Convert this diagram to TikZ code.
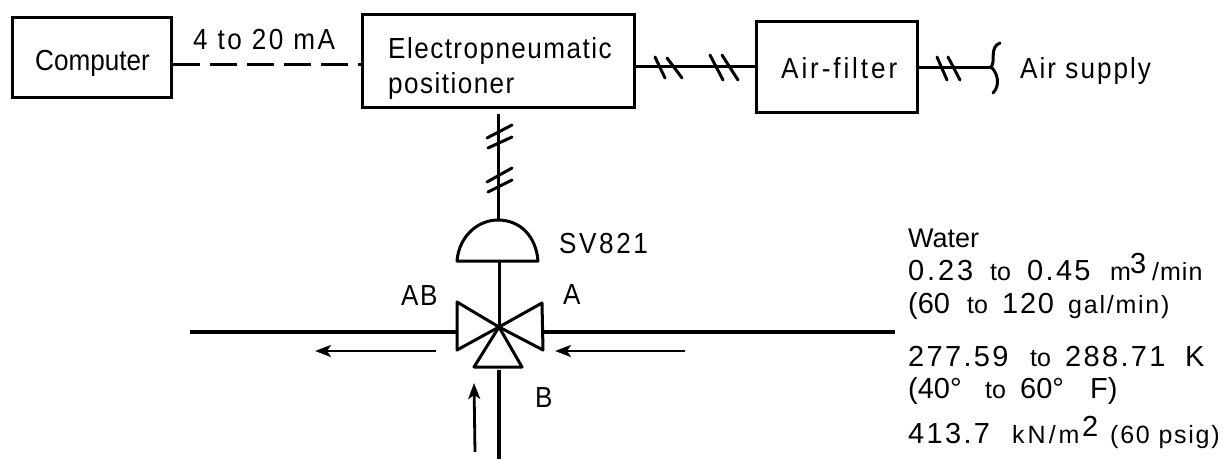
\documentclass[tikz,border=0pt]{standalone}
\usepackage{fontspec}
\setmainfont{Liberation Sans}
\newfontfamily\cond[FakeStretch=0.9]{Liberation Sans}
\newcommand\ls[1]{\addfontfeature{LetterSpace=#1}}
\newcommand\piece[2]{\makebox[#1pt][l]{#2}}
\newcommand\lgt[2]{{\fontsize{29}{29}\selectfont\ls{#1}#2}}
\newcommand\smt[2]{{\fontsize{25}{25}\selectfont\ls{#1}#2}}
\usetikzlibrary{arrows.meta}
\tikzset{
  x=1pt,y=-1pt,
  blockbox/.style={draw,line width=3pt,inner sep=0,rectangle},
  pipe/.style={line width=3.4pt},
  thin pipe/.style={line width=3pt},
  tick/.style={line width=3pt,line cap=round},
  valve/.style={line width=3pt,line join=round},
  flow/.style={line width=2.8pt,-{Stealth[length=16pt,width=12pt,inset=4pt]}},
  lbl/.style={anchor=base west,inner sep=0,font=\cond\fontsize{29}{29}\selectfont},
  rlbl/.style={anchor=base west,inner sep=0,font=\fontsize{29}{29}\selectfont},
}
\begin{document}
\begin{tikzpicture}
\useasboundingbox (0,0) rectangle (1232,459);
% boxes
\node[blockbox,minimum width=159pt,minimum height=80pt] (comp) at (91.5,57) {};
\node[blockbox,minimum width=272pt,minimum height=93pt] (epp) at (498,61) {};
\node[blockbox,minimum width=161pt,minimum height=91pt] (filt) at (836.5,66.5) {};
% box texts
\node[lbl] (tcomp) at (35,70) {Computer};
\node[lbl] (tma) at (193,49) {\ls{9}4 to 20 mA};
\node[lbl] (telec) at (388,58) {\ls{5}Electropneumatic};
\node[lbl] (tpos) at (388,93) {\ls{5}positioner};
\node[lbl] (tfilt) at (781,78) {\ls{10}Air-filter};
\node[lbl] (tair) at (1020,78) {\ls{7}Air supply};
% free ends
\coordinate (cr) at (comp.east |- 0,64);
\coordinate (el) at (epp.west |- 0,64);
\coordinate (er) at (epp.east |- 0,66);
\coordinate (fl) at (filt.west |- 0,66);
\coordinate (fr) at (filt.east |- 0,67);
\coordinate (sup) at (991,67);
\coordinate (sa) at (1000,43);
\coordinate (sb) at (993,93);
\draw[thin pipe,dash pattern=on 27pt off 10pt] (cr) -- (el);
\draw[thin pipe] (er) -- (fl);
\draw[thin pipe] (fr) -- (sup);
\draw[tick] (sa) .. controls (989,47) and (996,62) .. (sup) .. controls (997,72) and (1001,85) .. (sb);
% pneumatic ticks horizontal
\foreach \a/\b/\c/\d in {655/57/665/78,667/58/682/78,710/55/723/80,722/55/738/80,937/57/947/80,948/57/960/80}
  \draw[tick] (\a,\b) -- (\c,\d);
% valve
\coordinate (vc) at (499,327);
\coordinate (act) at (498,220);
\coordinate (actb) at (499,261);
\draw[thin pipe] (498,114) -- (act);
\foreach \a/\b/\c/\d in {487/138/512/125,488/148/512/137,487/182/512/168,488/192/512/180}
  \draw[tick] (\a,\b) -- (\c,\d);
\draw[valve] (457,261) .. controls (459,236) and (478,220) .. (act) .. controls (520,220) and (536,236) .. (538,261) -- cycle;
\draw[valve] (actb) -- (vc);
\draw[valve] (vc) -- (457,302) -- (457,350) -- cycle;
\draw[valve] (vc) -- (542,303) -- (543,350) -- cycle;
\draw[valve] (vc) -- (474,367) -- (522,367) -- cycle;
\coordinate (ll) at (190,332);
\coordinate (lr) at (456,332);
\coordinate (rl) at (544,332);
\coordinate (rr) at (895,332);
\coordinate (bt) at (499,370);
\coordinate (bb) at (499,459);
\draw[pipe] (ll) -- (lr);
\draw[pipe] (rl) -- (rr);
\draw[pipe] (bt) -- (bb);
% flow arrows
\coordinate (f1a) at (436,351); \coordinate (f1b) at (315,351);
\coordinate (f2a) at (685,351); \coordinate (f2b) at (555,351);
\coordinate (f3a) at (475,452); \coordinate (f3b) at (474,383);
\draw[flow] (f1a) -- (f1b);
\draw[flow] (f2a) -- (f2b);
\draw[flow] (f3a) -- (f3b);
% valve labels
\node[lbl] (tsv) at (559,253) {\ls{9}SV821};
\node[lbl] (tab) at (401,305) {\ls{5}AB};
\node[lbl] (ta) at (563,304) {A};
\node[lbl] (tb) at (535,407) {B};
% right block
\node[rlbl,font=\fontsize{27}{27}\selectfont] (t1) at (908,247) {Water};
\node[rlbl] (t2) at (908,280) {\piece{82}{\lgt{10}{0.23 }}\piece{37}{\smt{0}{to }}\piece{83}{\lgt{8}{0.45 }}\piece{20}{\smt{0}{m}}\piece{22}{\raisebox{7pt}{\lgt{0}{3}}}\smt{4}{/min}};
\node[rlbl] (t3) at (908,313) {\piece{59}{\lgt{0}{(60 }}\piece{35}{\smt{0}{to }}\piece{66}{\lgt{6}{120 }}\smt{7}{gal/min)}};
\node[rlbl] (t4) at (908,366) {\piece{122}{\lgt{8}{277.59 }}\piece{35}{\smt{0}{to }}\piece{120}{\lgt{8}{288.71 }}\lgt{0}{K}};
\node[rlbl] (t5) at (908,398) {\piece{77}{\lgt{0}{(40° }}\piece{35}{\smt{0}{to }}\piece{70}{\lgt{0}{60° }}\lgt{0}{F)}};
\node[rlbl] (t6) at (908,443) {\piece{104}{\lgt{8}{413.7 }}\piece{70}{\smt{12}{kN/m}}\piece{28}{\raisebox{7pt}{\lgt{0}{2}}}\smt{7}{(60 psig)}};
\end{tikzpicture}
\end{document}
